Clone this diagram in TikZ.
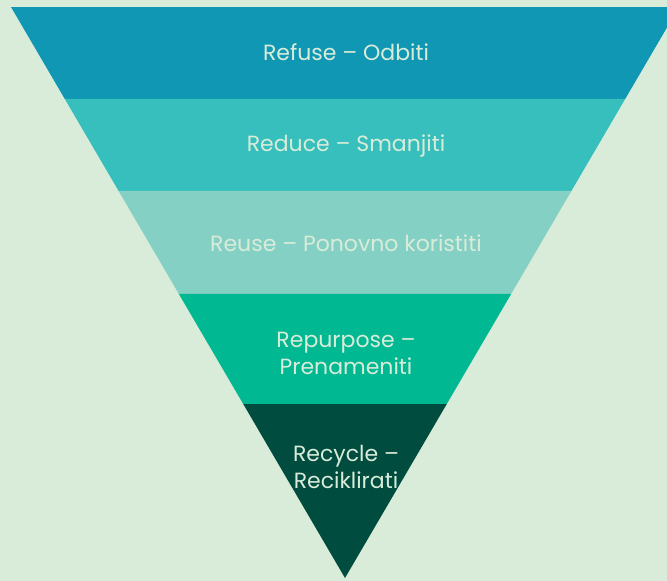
\documentclass[tikz,border=0pt]{standalone}
\usepackage{fontspec}
\setmainfont{Poppins}
\usetikzlibrary{calc}
\definecolor{bgmint}{HTML}{D9ECD9}
\definecolor{refusecol}{HTML}{1097B4}
\definecolor{reducecol}{HTML}{36BFBC}
\definecolor{reusecol}{HTML}{84D0C4}
\definecolor{repurposecol}{HTML}{00B892}
\definecolor{recyclecol}{HTML}{004D40}
\tikzset{
  level/.style={text=bgmint,font=\fontsize{22}{27}\selectfont,align=center}
}

\begin{document}
\begin{tikzpicture}[x=1pt,y=-1pt]
  \fill [bgmint] (0,0) rectangle (667,581);
  \useasboundingbox (0,0) rectangle (667,581);
  \coordinate (TL) at (11,7);
  \coordinate (TR) at (679,7);
  \coordinate (A) at (345,578);
  % band edges along the sides
  \foreach \t/\n in {0.1611/a,0.3222/b,0.5026/c,0.6953/d}{
    \coordinate (L\n) at ($(TL)!\t!(A)$);
    \coordinate (R\n) at ($(TR)!\t!(A)$);
  }
  \fill [refusecol] (TL) -- (TR) -- (Ra) -- (La) -- cycle;
  \fill [reducecol] (La) -- (Ra) -- (Rb) -- (Lb) -- cycle;
  \fill [reusecol] (Lb) -- (Rb) -- (Rc) -- (Lc) -- cycle;
  \fill [repurposecol] (Lc) -- (Rc) -- (Rd) -- (Ld) -- cycle;
  \fill [recyclecol] (Ld) -- (Rd) -- (A) -- cycle;
  \node [level] (refuse) at (346,52) {Refuse – Odbiti};
  \node [level] (reduce) at (346,146) {Reduce – Smanjiti};
  \node [level] (reuse) at (346,243) {Reuse – Ponovno koristiti};
  \node [level] (repurpose) at (346,353) {Repurpose –\\Prenameniti};
  \node [level] (recycle) at (346,467) {Recycle –\\Reciklirati};
\end{tikzpicture}
\end{document}
